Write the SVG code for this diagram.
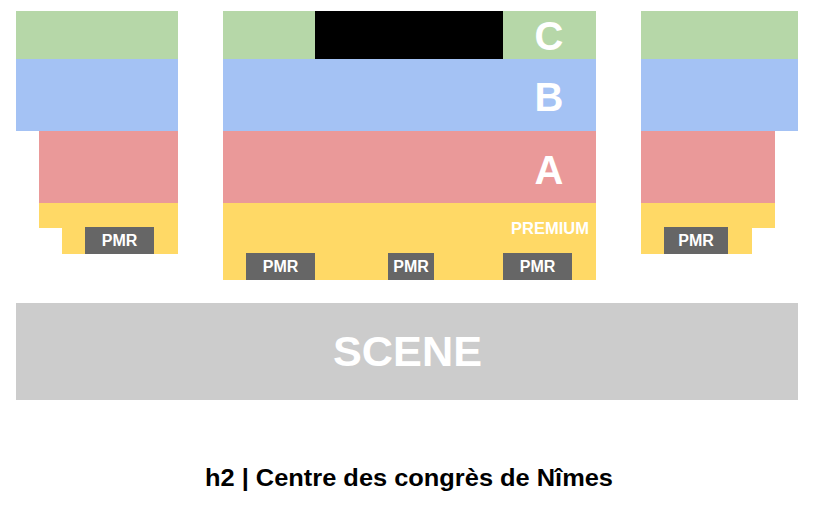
<svg xmlns="http://www.w3.org/2000/svg" width="821" height="508" viewBox="0 0 821 508">
<style>
.c{fill:#b6d7a8}.b{fill:#a4c2f4}.a{fill:#ea9999}.p{fill:#ffd966}.m{fill:#666666}.k{fill:#000000}.s{fill:#cccccc}
text{font-family:"Liberation Sans",Arial,sans-serif;font-weight:bold}
.lt{fill:#ffffff;font-size:40px;text-anchor:middle}
.pm{fill:#ffffff;font-size:16px;text-anchor:middle}
</style>
<rect width="821" height="508" fill="#ffffff"/>
<g id="left-block">
<rect class="c" x="16" y="11" width="162" height="48"/>
<rect class="b" x="16" y="59" width="162" height="72"/>
<rect class="a" x="39" y="131" width="139" height="72"/>
<path class="p" d="M39 203H178V254H62V228H39Z"/>
<g id="pmr-left"><rect class="m" x="85" y="227" width="69" height="27"/><text class="pm" x="119.5" y="246">PMR</text></g>
</g>
<g id="center-block">
<rect class="c" x="223" y="11" width="373" height="48"/>
<rect class="k" x="315" y="11" width="188" height="48"/>
<rect class="b" x="223" y="59" width="373" height="72"/>
<rect class="a" x="223" y="131" width="373" height="72"/>
<rect class="p" x="223" y="203" width="373" height="77"/>
<text class="lt" x="549" y="50">C</text>
<text class="lt" x="549" y="111">B</text>
<text class="lt" x="549" y="184">A</text>
<text fill="#ffffff" font-size="16.5" text-anchor="end" x="589" y="234">PREMIUM</text>
<g id="pmr-c1"><rect class="m" x="246" y="253" width="69" height="27"/><text class="pm" x="280.5" y="272">PMR</text></g>
<g id="pmr-c2"><rect class="m" x="388" y="253" width="46" height="27"/><text class="pm" x="411" y="272">PMR</text></g>
<g id="pmr-c3"><rect class="m" x="503" y="253" width="69" height="27"/><text class="pm" x="537.5" y="272">PMR</text></g>
</g>
<g id="right-block">
<rect class="c" x="641" y="11" width="157" height="48"/>
<rect class="b" x="641" y="59" width="157" height="72"/>
<rect class="a" x="641" y="131" width="134" height="72"/>
<path class="p" d="M641 203H775V228H752V254H641Z"/>
<g id="pmr-right"><rect class="m" x="664" y="227" width="64" height="27"/><text class="pm" x="696" y="246">PMR</text></g>
</g>
<g id="scene">
<rect class="s" x="16" y="303" width="782" height="97"/>
<text fill="#ffffff" font-size="42" x="333" y="366" textLength="149" lengthAdjust="spacingAndGlyphs">SCENE</text>
</g>
<g id="connectors"></g>
<text fill="#000000" font-size="23" x="205" y="486" textLength="408" lengthAdjust="spacingAndGlyphs">h2 | Centre des congrès de Nîmes</text>
</svg>
